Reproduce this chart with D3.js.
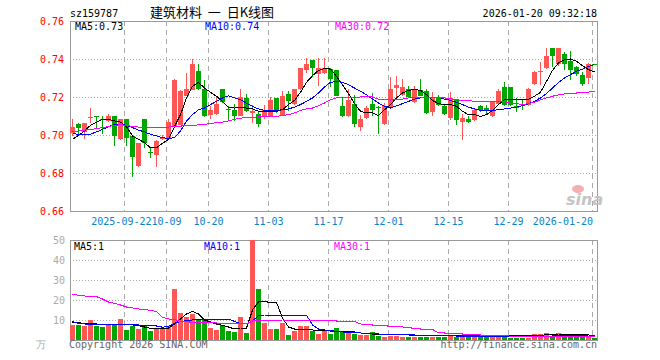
<!DOCTYPE html>
<html>
<head>
<meta charset="utf-8">
<script src="https://cdn.jsdelivr.net/npm/d3@7/dist/d3.min.js"></script>
<style>
  body { margin: 0; background: #fff; }
  svg { display: block; font-family: "DejaVu Sans Mono", monospace; font-size: 10px; }
</style>
</head>
<body>
<svg width="660" height="360"></svg>
<script>
// trading days shown on the chart
const dates = [
  "2025-09-09","2025-09-10","2025-09-11","2025-09-12","2025-09-15","2025-09-16","2025-09-17","2025-09-18","2025-09-19",
  "2025-09-22","2025-09-23","2025-09-24","2025-09-25","2025-09-26","2025-09-29","2025-09-30",
  "2025-10-09","2025-10-10","2025-10-13","2025-10-14","2025-10-15","2025-10-16","2025-10-17",
  "2025-10-20","2025-10-21","2025-10-22","2025-10-23","2025-10-24","2025-10-27","2025-10-28","2025-10-29","2025-10-30","2025-10-31",
  "2025-11-03","2025-11-04","2025-11-05","2025-11-06","2025-11-07","2025-11-10","2025-11-11","2025-11-12","2025-11-13","2025-11-14",
  "2025-11-17","2025-11-18","2025-11-19","2025-11-20","2025-11-21","2025-11-24","2025-11-25","2025-11-26","2025-11-27","2025-11-28",
  "2025-12-01","2025-12-02","2025-12-03","2025-12-04","2025-12-05","2025-12-08","2025-12-09","2025-12-10","2025-12-11","2025-12-12",
  "2025-12-15","2025-12-16","2025-12-17","2025-12-18","2025-12-19","2025-12-22","2025-12-23","2025-12-24","2025-12-25","2025-12-26",
  "2025-12-29","2025-12-30","2025-12-31",
  "2026-01-05","2026-01-06","2026-01-07","2026-01-08","2026-01-09","2026-01-12","2026-01-13","2026-01-14","2026-01-15","2026-01-16","2026-01-19","2026-01-20"
];

const opens = [
  0.7011,0.7056,0.7016,0.7089,0.7100,0.7084,0.7074,0.7102,0.6979,0.7086,
  0.6995,0.6835,0.7086,0.6911,0.6893,0.6979,0.6984,0.7046,0.7051,0.7207,
  0.7239,0.7339,0.7242,0.7107,0.7112,0.7242,0.7137,0.7133,0.7102,0.7195,
  0.7116,0.7112,0.7102,0.7102,0.7195,0.7107,0.7218,0.7165,0.7242,0.7340,
  0.7396,0.7323,0.7326,0.7347,0.7340,0.7154,0.7102,0.7165,0.7044,0.7091,
  0.7165,0.7146,0.7056,0.7142,0.7247,0.7212,0.7242,0.7172,0.7239,0.7230,
  0.7119,0.7200,0.7154,0.7091,0.7182,0.7068,0.7084,0.7077,0.7151,0.7142,
  0.7098,0.7165,0.7253,0.7253,0.7154,0.7165,0.7160,0.7270,0.7330,0.7353,
  0.7458,0.7375,0.7428,0.7388,0.7358,0.7318,0.7300,0.7375
];
const highs = [
  0.7086,0.7065,0.7065,0.7142,0.7102,0.7102,0.7112,0.7102,0.7086,0.7086,
  0.6995,0.6960,0.7086,0.6932,0.6975,0.7002,0.7084,0.7295,0.7239,0.7326,
  0.7400,0.7375,0.7291,0.7154,0.7207,0.7242,0.7154,0.7165,0.7242,0.7218,
  0.7160,0.7125,0.7160,0.7200,0.7195,0.7230,0.7230,0.7242,0.7353,0.7405,
  0.7396,0.7405,0.7405,0.7353,0.7340,0.7195,0.7242,0.7212,0.7107,0.7154,
  0.7221,0.7154,0.7168,0.7305,0.7312,0.7295,0.7260,0.7256,0.7295,0.7242,
  0.7225,0.7212,0.7160,0.7225,0.7189,0.7112,0.7102,0.7142,0.7158,0.7160,
  0.7177,0.7242,0.7277,0.7253,0.7195,0.7189,0.7247,0.7335,0.7382,0.7458,
  0.7458,0.7458,0.7435,0.7440,0.7365,0.7330,0.7379,0.7375
];
const lows = [
  0.6995,0.6995,0.6977,0.7065,0.7033,0.7007,0.7068,0.6940,0.6975,0.6940,
  0.6779,0.6832,0.6932,0.6879,0.6830,0.6975,0.6975,0.7042,0.7051,0.7204,
  0.7235,0.7239,0.7095,0.7084,0.7107,0.7168,0.7077,0.7072,0.7098,0.7119,
  0.7065,0.7044,0.7084,0.7098,0.7116,0.7102,0.7125,0.7160,0.7239,0.7326,
  0.7305,0.7260,0.7323,0.7253,0.7204,0.7095,0.7095,0.7044,0.7021,0.7084,
  0.7102,0.7007,0.7051,0.7137,0.7200,0.7207,0.7195,0.7168,0.7204,0.7112,
  0.7098,0.7154,0.7107,0.7077,0.7051,0.6972,0.7065,0.7072,0.7119,0.7112,
  0.7095,0.7160,0.7154,0.7154,0.7119,0.7133,0.7154,0.7265,0.7265,0.7347,
  0.7358,0.7365,0.7340,0.7288,0.7312,0.7260,0.7270,0.7370
];
const closes = [
  0.7044,0.7039,0.7065,0.7096,0.7096,0.7077,0.7102,0.6995,0.7086,0.6986,
  0.6884,0.6956,0.6958,0.6905,0.6967,0.6989,0.7067,0.7288,0.7233,0.7242,
  0.7375,0.7242,0.7102,0.7130,0.7165,0.7172,0.7130,0.7102,0.7200,0.7125,
  0.7125,0.7056,0.7130,0.7186,0.7125,0.7207,0.7177,0.7242,0.7353,0.7375,
  0.7353,0.7353,0.7353,0.7295,0.7207,0.7102,0.7186,0.7056,0.7084,0.7142,
  0.7133,0.7140,0.7151,0.7242,0.7265,0.7253,0.7200,0.7242,0.7207,0.7116,
  0.7200,0.7160,0.7112,0.7195,0.7077,0.7091,0.7068,0.7133,0.7130,0.7126,
  0.7172,0.7230,0.7160,0.7160,0.7142,0.7158,0.7242,0.7330,0.7339,0.7418,
  0.7414,0.7458,0.7375,0.7340,0.7323,0.7270,0.7375,0.7370
];

// price moving averages as drawn
const ma5 = [
  0.6977,0.6998,0.7021,0.7051,0.7068,0.7082,0.7082,0.7074,0.7068,0.7044,
  0.6995,0.6977,0.6960,0.6933,0.6933,0.6956,0.6977,0.7044,0.7107,0.7195,
  0.7256,0.7277,0.7247,0.7225,0.7204,0.7177,0.7146,0.7142,0.7146,0.7142,
  0.7137,0.7125,0.7125,0.7125,0.7125,0.7133,0.7160,0.7182,0.7225,0.7277,
  0.7312,0.7340,0.7349,0.7347,0.7309,0.7265,0.7218,0.7165,0.7125,0.7116,
  0.7116,0.7102,0.7133,0.7160,0.7195,0.7221,0.7235,0.7239,0.7235,0.7212,
  0.7182,0.7165,0.7160,0.7160,0.7151,0.7125,0.7107,0.7107,0.7098,0.7107,
  0.7130,0.7160,0.7186,0.7189,0.7189,0.7189,0.7189,0.7204,0.7225,0.7282,
  0.7340,0.7379,0.7396,0.7400,0.7388,0.7365,0.7344,0.7332
];
const ma10 = [
  0.7007,0.7004,0.7004,0.7005,0.7016,0.7030,0.7044,0.7056,0.7056,0.7051,
  0.7039,0.7026,0.7016,0.7004,0.6995,0.6986,0.6981,0.6986,0.7021,0.7074,
  0.7107,0.7133,0.7142,0.7160,0.7177,0.7195,0.7207,0.7195,0.7186,0.7168,
  0.7151,0.7137,0.7130,0.7130,0.7130,0.7133,0.7137,0.7147,0.7160,0.7177,
  0.7195,0.7221,0.7253,0.7277,0.7282,0.7277,0.7265,0.7247,0.7230,0.7212,
  0.7189,0.7168,0.7151,0.7142,0.7154,0.7165,0.7177,0.7189,0.7195,0.7200,
  0.7200,0.7200,0.7189,0.7182,0.7172,0.7160,0.7147,0.7137,0.7130,0.7130,
  0.7130,0.7133,0.7137,0.7142,0.7147,0.7154,0.7165,0.7177,0.7195,0.7218,
  0.7247,0.7277,0.7300,0.7318,0.7335,0.7347,0.7361,0.7370
];
const ma30 = [
  0.7016,0.7021,0.7026,0.7030,0.7033,0.7039,0.7044,0.7051,0.7054,0.7051,
  0.7044,0.7042,0.7042,0.7042,0.7042,0.7042,0.7042,0.7044,0.7047,0.7049,
  0.7051,0.7053,0.7056,0.7060,0.7065,0.7068,0.7074,0.7082,0.7089,0.7091,
  0.7093,0.7095,0.7098,0.7098,0.7098,0.7102,0.7107,0.7116,0.7130,0.7137,
  0.7142,0.7154,0.7168,0.7186,0.7195,0.7195,0.7196,0.7198,0.7200,0.7202,
  0.7200,0.7189,0.7186,0.7184,0.7186,0.7189,0.7195,0.7198,0.7200,0.7200,
  0.7200,0.7198,0.7195,0.7191,0.7186,0.7182,0.7181,0.7177,0.7177,0.7177,
  0.7177,0.7175,0.7174,0.7168,0.7165,0.7160,0.7165,0.7172,0.7186,0.7195,
  0.7204,0.7211,0.7216,0.7221,0.7221,0.7225,0.7226,0.7230
];

// volume, 万手
const volumes = [
  7.7,7.7,7.2,10,7.2,6.3,7.7,7.7,10.5,5,
  7.2,5.5,7.2,4.7,5.5,5.5,7.2,25.5,13.5,11.7,
  13,10.5,10.5,6,5,7.7,4.7,4.2,11.7,3.3,
  50.5,25.5,8.3,5.5,5.5,8.3,2.7,4.3,7.2,7.2,
  4.7,3,4.3,3,5.8,4.7,3.5,3,2.7,2.7,
  3.8,2.2,1.3,2.2,2.2,1.7,1.7,1.7,1.7,1.7,
  1.7,1.3,1.3,2.7,1.3,1.3,1.3,1.3,1.3,2.2,
  2.2,1.3,1.3,1,1,1,1,3,3,3.5,
  2.2,3.5,1.3,1.3,1.3,1.3,1.7,1
];
const volMa5 = [
  8.8,8.6,8.3,8.1,8,7.8,7.7,7.7,7.7,7.7,
  7.5,7.2,6.5,5.8,5.5,5.7,6,8,10.5,13,
  14.3,13,10,9,8,7.3,6.5,5.5,6,6,
  15,19,19.2,18.8,18.8,11,6.5,5.5,5.5,5.3,
  5,4.8,4.7,4.5,4.5,4.3,4.2,4,3.5,3.2,
  3,3,3,2.8,2.7,2.6,2.5,2.4,2.3,2.2,
  2.2,2.2,2.2,2.2,2.2,2.2,2.2,2.2,2.2,2.2,
  2.2,2.2,2.2,2.2,2.2,2.2,2.2,2.2,2.3,2.6,
  2.8,3,3,3,3,3,2.5,2.2
];
const volMa10 = [
  9.3,8.2,8,7.8,7.7,7.7,7.7,7.7,7.7,7.7,
  7.6,7.5,7.4,7.3,7,6.4,6.8,8.3,9.3,9.6,
  10,10.3,10.5,10.5,10.5,10.5,10.5,9.3,8.3,8,
  9.5,12.3,12.5,12.5,12.5,12.5,12.5,12.5,12.5,12.4,
  7.5,5.5,5,4.7,4.3,4,3.8,3.6,3.5,3.3,
  3.2,3,2.9,2.8,2.7,2.6,2.6,2.5,2.5,2.4,
  2.3,2.2,2.2,2.1,2,2,1.9,1.9,1.8,1.8,
  1.8,1.8,1.8,1.7,1.7,1.7,1.7,1.8,1.8,1.9,
  2,2.1,2.2,2.3,2.4,2.4,2.5,2.5
];
const volMa30 = [
  23,22.3,22,21.7,21.7,20.5,19,18.3,17.5,16.5,
  16,15.5,15.3,14.8,14.3,11.3,10.5,10.3,9.3,9.2,
  8.8,8.8,8.7,8.6,8.5,8.3,8.3,8.2,8.2,8,
  9.5,9.7,9.8,9.8,9.8,10,10,10,10,9.8,
  9.7,9.7,9.7,9.6,9.5,9.5,9.4,9.3,8,7.8,
  7.5,7.5,7.2,6.8,6.7,6.5,6.2,5.8,5.5,5.5,
  5.3,3.6,3.5,3.5,3.4,3,3,3,2.5,2.5,
  2.5,2.5,2.5,1.8,1.8,1.8,1.8,1.8,1.8,1.8,
  1.8,1.8,1.8,1.8,1.8,1.8,1.8,1.8
];

const priceTicks = [0.66, 0.68, 0.70, 0.72, 0.74, 0.76];
const volTicks = [10, 20, 30, 40, 50];
const dateTicks = ["2025-09-22","2025-10-09","2025-10-20","2025-11-03","2025-11-17","2025-12-01","2025-12-15","2025-12-29","2026-01-20"];
const dateTickLabels = ["2025-09-22","10-09","10-20","11-03","11-17","12-01","12-15","12-29","2026-01-20"];

(function () {
  "use strict";
  const svg = d3.select("svg");

  const left = 70;
  const right = 598;
  const priceTop = 21;
  const priceBottom = 211;
  const volTop = 240;
  const volBottom = 340;

  const red = "#ff5555";
  const green = "#00a600";
  const gridColor = "#aaaaaa";
  const frameColor = "#999999";

  const xScale = d3.scaleBand().domain(dates).range([left, right]);
  const yScale = d3.scaleLinear().domain([0.66, 0.76]).range([priceBottom, priceTop]);
  const vScale = d3.scaleLinear().domain([0, 50]).range([volBottom, volTop]);

  const crisp = (v) => Math.round(v) + 0.5;
  const xMid = (i) => xScale(dates[i]) + 2.5;
  const colorOf = (i) => (closes[i] >= opens[i] ? red : green);

  const defs = svg.append("defs");
  defs.append("clipPath").attr("id", "clipPrice")
    .append("rect").attr("x", left).attr("y", priceTop).attr("width", right - left).attr("height", priceBottom - priceTop + 1);
  defs.append("clipPath").attr("id", "clipVol")
    .append("rect").attr("x", left).attr("y", volTop).attr("width", right - left).attr("height", volBottom - volTop + 1);

  const drawPanel = (top, bottom, scale, ticks) => {
    const g = svg.append("g").attr("shape-rendering", "crispEdges");
    g.selectAll(".hgrid")
      .data(ticks.filter((t) => scale(t) > top + 1 && scale(t) < bottom - 1))
      .join("line")
      .attr("x1", left).attr("x2", right)
      .attr("y1", (t) => crisp(scale(t))).attr("y2", (t) => crisp(scale(t)))
      .attr("stroke", gridColor)
      .attr("stroke-dasharray", "1,2");
    g.selectAll(".vgrid")
      .data(dateTicks)
      .join("line")
      .attr("x1", (d) => crisp(xScale(d))).attr("x2", (d) => crisp(xScale(d)))
      .attr("y1", top).attr("y2", bottom)
      .attr("stroke", gridColor)
      .attr("stroke-dasharray", "5,4");
    g.append("rect")
      .attr("x", left + 0.5).attr("y", top + 0.5)
      .attr("width", right - left - 1).attr("height", bottom - top)
      .attr("fill", "none")
      .attr("stroke", frameColor);
  };

  drawPanel(priceTop, priceBottom, yScale, priceTicks);
  drawPanel(volTop, volBottom, vScale, volTicks);

  // price axis labels
  svg.append("g").selectAll("text")
    .data(priceTicks)
    .join("text")
    .attr("x", 64)
    .attr("y", (t) => yScale(t) + 3.5)
    .attr("text-anchor", "end")
    .attr("fill", "#ff0000")
    .text((t) => t.toFixed(2));

  // volume axis labels
  svg.append("g").selectAll("text")
    .data(volTicks)
    .join("text")
    .attr("x", 65)
    .attr("y", (t) => vScale(t) + 3.5)
    .attr("text-anchor", "end")
    .attr("fill", "#aaaaaa")
    .text((t) => t);
  svg.append("text")
    .attr("x", 46).attr("y", volBottom + 8)
    .attr("text-anchor", "end")
    .attr("fill", "#aaaaaa")
    .text("万");

  // date labels; the first one ends where the next begins, the last one stays inside the frame
  svg.append("g").selectAll("text")
    .data(dateTicks)
    .join("text")
    .attr("x", (d, i) => (i === 0 ? xScale(dateTicks[1]) - 14.5 : i === dateTicks.length - 1 ? xScale(d) + 1 : xScale(d) + 0.5))
    .attr("y", 225)
    .attr("text-anchor", (d, i) => (i === 0 || i === dateTicks.length - 1 ? "end" : "middle"))
    .attr("fill", "#0a82c8")
    .text((d, i) => dateTickLabels[i]);

  // candles
  const cg = svg.append("g").attr("clip-path", "url(#clipPrice)").attr("shape-rendering", "crispEdges");
  cg.selectAll("line")
    .data(dates)
    .join("line")
    .attr("x1", (d, i) => xMid(i)).attr("x2", (d, i) => xMid(i))
    .attr("y1", (d, i) => yScale(highs[i])).attr("y2", (d, i) => yScale(lows[i]))
    .attr("stroke", (d, i) => colorOf(i));
  cg.selectAll("rect")
    .data(dates)
    .join("rect")
    .attr("x", (d) => xScale(d))
    .attr("width", xScale.bandwidth() - 1)
    .attr("y", (d, i) => yScale(Math.max(opens[i], closes[i])))
    .attr("height", (d, i) => Math.max(1, yScale(Math.min(opens[i], closes[i])) - yScale(Math.max(opens[i], closes[i]))))
    .attr("fill", (d, i) => colorOf(i));

  // volume bars
  const vg = svg.append("g").attr("clip-path", "url(#clipVol)").attr("shape-rendering", "crispEdges");
  vg.selectAll("rect")
    .data(volumes)
    .join("rect")
    .attr("x", (v, i) => xScale(dates[i]))
    .attr("width", xScale.bandwidth() - 1)
    .attr("y", (v) => vScale(v))
    .attr("height", (v) => volBottom - vScale(v))
    .attr("fill", (v, i) => colorOf(i));

  const priceLine = d3.line().x((v, i) => xMid(i)).y((v) => yScale(v));
  const volLine = d3.line().x((v, i) => xMid(i)).y((v) => vScale(v));
  const maColors = ["#000000", "#0000ff", "#ff00ff"];

  [ma5, ma10, ma30].forEach((s, k) => {
    cg.append("path").attr("d", priceLine(s)).attr("fill", "none").attr("stroke", maColors[k]);
  });
  [volMa5, volMa10, volMa30].forEach((s, k) => {
    vg.append("path").attr("d", volLine(s)).attr("fill", "none").attr("stroke", maColors[k]);
  });

  // legends
  const maNames = ["MA5:0.73", "MA10:0.74", "MA30:0.72"];
  const volNames = ["MA5:1", "MA10:1", "MA30:1"];
  const legendX = [75, 205, 335];
  maNames.forEach((t, k) => {
    svg.append("text").attr("x", legendX[k]).attr("y", 30).attr("fill", maColors[k]).text(t);
  });
  volNames.forEach((t, k) => {
    svg.append("text").attr("x", legendX[k] - 1).attr("y", 250).attr("fill", maColors[k]).text(t);
  });

  // header
  svg.append("text").attr("x", 70).attr("y", 17).attr("fill", "#000").text("sz159787");
  svg.append("text")
    .attr("x", 150).attr("y", 17)
    .attr("font-family", "'Noto Sans CJK SC', sans-serif")
    .attr("font-size", 13)
    .attr("fill", "#000")
    .attr("xml:space", "preserve")
    .text("建筑材料  一  日K线图");
  svg.append("text").attr("x", 597).attr("y", 17).attr("text-anchor", "end").attr("fill", "#000").text("2026-01-20 09:32:18");

  // footer
  svg.append("text").attr("x", 69).attr("y", 348).attr("fill", "#666").text("Copyright 2026 SINA.COM");
  svg.append("text").attr("x", 597).attr("y", 348).attr("text-anchor", "end").attr("fill", "#666").text("http://finance.sina.com.cn");

  // watermark
  svg.append("ellipse").attr("cx", 578).attr("cy", 189).attr("rx", 6).attr("ry", 4).attr("fill", "#f3b0b0");
  svg.append("text")
    .attr("x", 566).attr("y", 205)
    .attr("font-family", "'DejaVu Sans', sans-serif")
    .attr("font-size", 16)
    .attr("font-style", "italic")
    .attr("font-weight", "bold")
    .attr("fill", "#c4c4c4")
    .text("sina");
})();
</script>
</body>
</html>
